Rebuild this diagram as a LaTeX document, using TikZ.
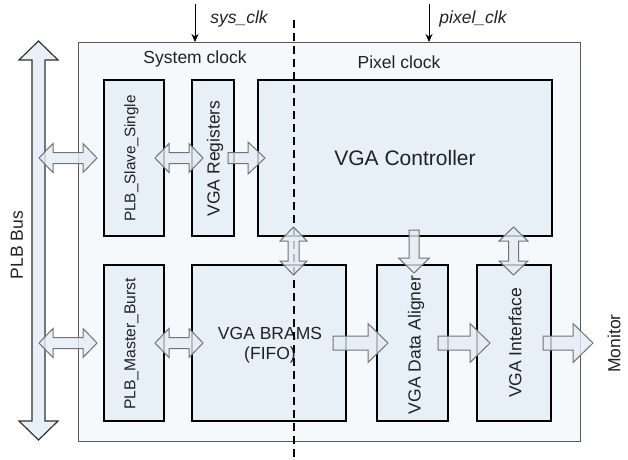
\documentclass[tikz,border=0pt]{standalone}
\usepackage{fontspec}
\setmainfont{Liberation Sans}
\usetikzlibrary{arrows.meta}
\definecolor{outerfill}{HTML}{F6F9FC}
\definecolor{boxfill}{HTML}{E7EFF7}
\definecolor{arrfill}{HTML}{E4ECF5}
\definecolor{txt}{HTML}{222222}
\tikzset{
  box/.style={draw=black, line width=1.4pt, fill=boxfill, inner sep=0pt},
  outerbox/.style={draw=black!65, line width=1pt, fill=outerfill, inner sep=0pt},
  lbl/.style={text=txt, font=\fontsize{17.5}{20}\selectfont, inner sep=0pt, align=center},
  vlbl/.style={lbl, rotate=90},
  barrow/.style={draw=black!55, line width=1pt, fill=arrfill, fill opacity=0.8, line join=miter},
  busarrow/.style={draw=black!80, line width=1.2pt, fill=boxfill, line join=miter},
  clkarrow/.style={draw=black, line width=0.8pt, -{Stealth[length=8pt,width=7pt]}},
  divider/.style={draw=black, line width=1.6pt, dash pattern=on 8pt off 5pt}
}
% horizontal double arrow: x1, x2, y, head length, head half width, shaft half width
\newcommand\HDbl[6]{\path[barrow] (#1,#3) -- (#1+#4,#3-#5) -- (#1+#4,#3-#6) -- (#2-#4,#3-#6) -- (#2-#4,#3-#5) -- (#2,#3) -- (#2-#4,#3+#5) -- (#2-#4,#3+#6) -- (#1+#4,#3+#6) -- (#1+#4,#3+#5) -- cycle;}
% horizontal single arrow: x tail, x tip, y, h, w, s
\newcommand\HSgl[6]{\path[barrow] (#1,#3-#6) -- (#2-#4,#3-#6) -- (#2-#4,#3-#5) -- (#2,#3) -- (#2-#4,#3+#5) -- (#2-#4,#3+#6) -- (#1,#3+#6) -- cycle;}
% vertical double arrow: y1, y2, x, h, w, s
\newcommand\VDbl[6]{\path[barrow] (#3,#1) -- (#3+#5,#1+#4) -- (#3+#6,#1+#4) -- (#3+#6,#2-#4) -- (#3+#5,#2-#4) -- (#3,#2) -- (#3-#5,#2-#4) -- (#3-#6,#2-#4) -- (#3-#6,#1+#4) -- (#3-#5,#1+#4) -- cycle;}
% vertical single arrow downward: y tail, y tip, x, h, w, s
\newcommand\VSgl[6]{\path[barrow] (#3-#6,#1) -- (#3+#6,#1) -- (#3+#6,#2-#4) -- (#3+#5,#2-#4) -- (#3,#2) -- (#3-#5,#2-#4) -- (#3-#6,#2-#4) -- cycle;}
\begin{document}
\begin{tikzpicture}[x=1pt,y=-1pt]
\useasboundingbox (0,0) rectangle (628,459);
% outer box
\node[outerbox, minimum width=502, minimum height=399] (outer) at (329,241.5) {};
% bus arrow
\path[busarrow] (38.5,41) -- (58,60) -- (45,60) -- (45,421) -- (58,421) -- (38.5,440) -- (19,421) -- (32,421) -- (32,60) -- (19,60) -- cycle;
\node[vlbl] (bus) at (17,245) {PLB Bus};
% inner boxes
\node[box, minimum width=60, minimum height=156] (slave) at (134,158) {};
\node[box, minimum width=42, minimum height=156] (regs) at (213,158) {};
\node[box, minimum width=294, minimum height=156] (ctrl) at (405,158) {};
\node[box, minimum width=60, minimum height=156] (master) at (134,343) {};
\node[box, minimum width=154, minimum height=156] (brams) at (269,343) {};
\node[box, minimum width=71, minimum height=156] (align) at (412.5,343) {};
\node[box, minimum width=74, minimum height=156] (iface) at (514,343) {};
% labels
\node[vlbl, font=\fontsize{15.3}{18}\selectfont] (slavet) at (131.5,158.5) {PLB\_Slave\_Single};
\node[vlbl] (regst) at (215,158.5) {VGA Registers};
\node[lbl, font=\fontsize{21}{24}\selectfont] (ctrlt) at (405,158) {VGA Controller};
\node[vlbl, font=\fontsize{15.7}{18}\selectfont] (mastert) at (131.5,344) {PLB\_Master\_Burst};
\node[lbl, align=center] (bramst) at (270,345) {VGA BRAMS\\(FIFO)};
\node[vlbl] (alignt) at (416,345) {VGA Data Aligner};
\node[vlbl] (ifacet) at (515,343) {VGA Interface};
\node[vlbl] (monitor) at (614,343.5) {Monitor};
\node[lbl] (sysclock) at (195,59) {System clock};
\node[lbl] (pixclock) at (399,62) {Pixel clock};
% clock inputs
\coordinate (sysin) at (195,4);
\coordinate (sysend) at (195,42);
\coordinate (pixin) at (429,4);
\coordinate (pixend) at (429,42);
\draw[clkarrow] (sysin) -- (sysend);
\draw[clkarrow] (pixin) -- (pixend);
\node[lbl, font=\fontsize{17.5}{20}\selectfont\itshape] (sysclk) at (239,19) {sys\_clk};
\node[lbl, font=\fontsize{17.5}{20}\selectfont\itshape] (pixclk) at (473,19) {pixel\_clk};
% clock domain divider
\coordinate (divtop) at (294,20);
\coordinate (divbot) at (294,459);
\draw[divider] (divtop) -- (divbot);
% block arrows
\HDbl{39}{97}{158}{14}{14.5}{5.5}
\HDbl{155}{203}{158}{14}{14.5}{5.5}
\HSgl{228}{265}{158}{17}{16}{5.5}
\HDbl{39}{97}{343}{14}{14.5}{5.5}
\HDbl{155}{203}{343}{14}{14.5}{5.5}
\VDbl{227}{275}{293.5}{14}{13.5}{5.5}
\VSgl{230}{273}{414}{15}{15.5}{5}
\VDbl{227}{275}{513.5}{14}{14.5}{5}
\HSgl{333}{388}{343}{20}{19.5}{7}
\HSgl{438}{490}{343}{20}{19.5}{7}
\HSgl{543}{593}{343}{20}{19.5}{7}
\end{tikzpicture}
\end{document}
